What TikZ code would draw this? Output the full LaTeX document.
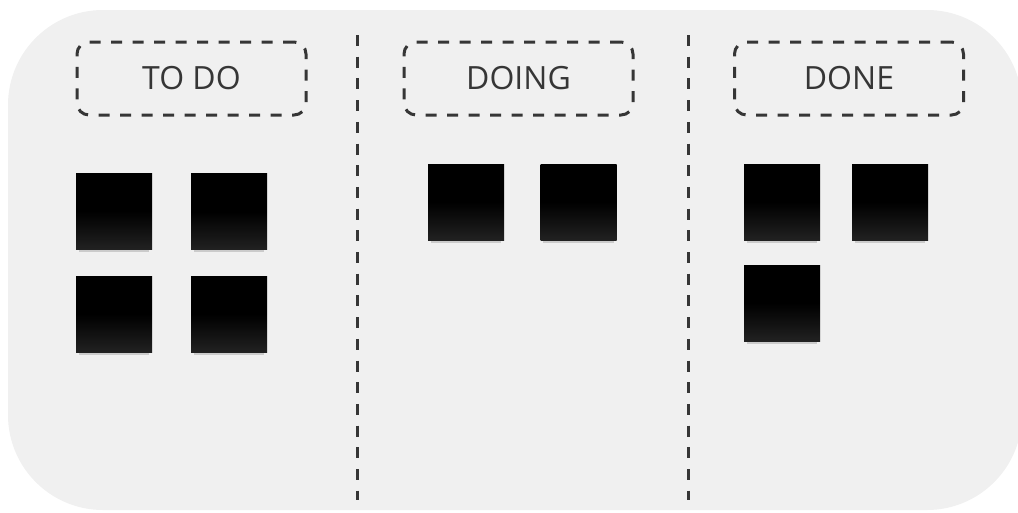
\documentclass[tikz,border=0pt]{standalone}
\usepackage{fontspec}
\setmainfont{Open Sans}
\usetikzlibrary{shadows}
\definecolor{boardgray}{HTML}{F0F0F0}
\definecolor{inkgray}{HTML}{363636}
\tikzset{every picture/.style={line width=0.75pt}}

\begin{document}
\begin{tikzpicture}[x=1pt,y=-1pt,
    header/.style={draw=inkgray,line width=3pt,dash pattern=on 11pt off 10.5pt,
      rounded corners=12pt,minimum width=229pt,minimum height=73pt,
      text=inkgray,font=\fontsize{32}{38}\selectfont,inner sep=0pt},
    divider/.style={draw=inkgray,line width=3pt,dash pattern=on 11pt off 10.7pt},
    note/.style={minimum size=76pt,inner sep=0pt,
      top color=black,bottom color=black!87!white,middle color=black,
      drop shadow={shadow xshift=0pt,shadow yshift=-6pt,shadow scale=0.93,
        opacity=0.22,fill=black!70}}]
    \useasboundingbox (0,0) rectangle (1018,512);
    % Board
    \fill[boardgray,rounded corners=95pt] (8,10) rectangle (1022,510);

    % Column dividers
    \draw[divider] (357,35) -- (357,500);
    \draw[divider] (688,35) -- (688,500);

    % Column headers
    \node[header] (todo) at (191.5,78.5) {TO DO};
    \node[header] (doing) at (518.5,78.5) {DOING};
    \node[header] (done) at (849,78.5) {DONE};

    % Notes in TO DO
    \node[note] (todoA) at (114,211) {};
    \node[note] (todoB) at (229,211.5) {};
    \node[note] (todoC) at (114,314) {};
    \node[note] (todoD) at (229,314) {};

    % Notes in DOING
    \node[note] (doingA) at (466,202) {};
    \node[note] (doingB) at (578.5,202) {};

    % Notes in DONE
    \node[note] (doneA) at (782,202) {};
    \node[note] (doneB) at (890,202) {};
    \node[note] (doneC) at (782,303) {};
\end{tikzpicture}
\end{document}
